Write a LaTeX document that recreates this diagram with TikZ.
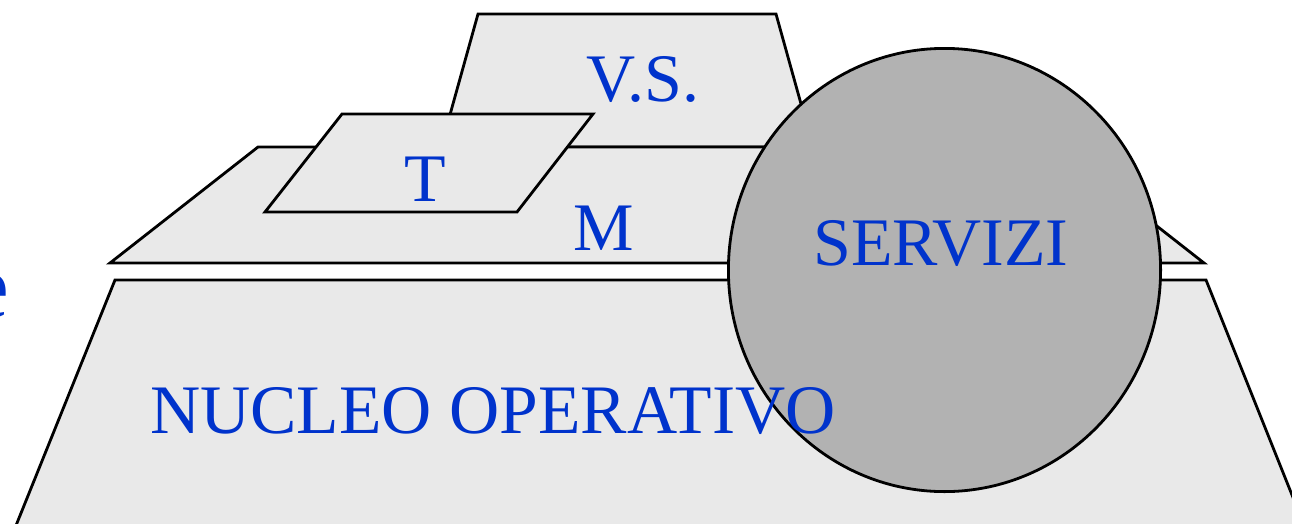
\documentclass[tikz,border=0pt]{standalone}
\usepackage{fontspec}
\usetikzlibrary{shapes.geometric}
\setmainfont{Liberation Serif}
\definecolor{labelblue}{RGB}{0,51,204}
\definecolor{layerfill}{RGB}{233,233,233}
\definecolor{servfill}{RGB}{178,178,178}
\begin{document}
\begin{tikzpicture}[x=1pt,y=-1pt,
  layer/.style={draw=black,line width=2.8pt,fill=layerfill,line join=miter},
  lbl/.style={text=labelblue,inner sep=0pt,anchor=base,font=\fontsize{68}{80}\selectfont}]
\useasboundingbox (0,0) rectangle (1292,523);
\clip (0,0) rectangle (1292,523);
% kernel layer
\draw[layer] (115,280) -- (1206,280) -- (1330,590) -- (-10,590) -- cycle;
% virtual storage layer
\draw[layer] (478,14) -- (776,14) -- (813,147) -- (441,147) -- cycle;
% memory layer
\draw[layer] (258,147) -- (1056,147) -- (1204,263) -- (110,263) -- cycle;
% terminal layer
\draw[layer] (342,114) -- (593,114) -- (517,212) -- (265,212) -- cycle;
% services
\node[ellipse,draw=black,line width=2.8pt,fill=servfill,inner sep=0pt,outer sep=0pt,
  minimum width=435pt-2.8pt,minimum height=446pt-2.8pt] (serv) at (944.5,270) {};
% labels
\node[lbl] (vs) at (643,101) {V.S.};
\node[lbl] (t) at (425,201) {T};
\node[lbl] (m) at (604,250) {M};
\node[lbl] (servizi) at (941,265) {SERVIZI};
\node[lbl,anchor=base west,font=\fontsize{69.5}{80}\selectfont] (nucleo) at (150,433) {NUCLEO OPERATIVO};
\node[lbl,anchor=base east,font=\fontsize{92}{110}\selectfont] (edge) at (10,317) {e};
\end{tikzpicture}
\end{document}
